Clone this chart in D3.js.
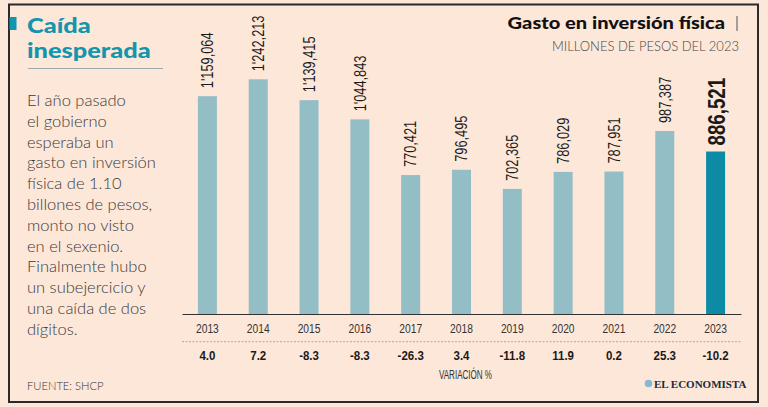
<!DOCTYPE html>
<html><head><meta charset="utf-8">
<script src="https://cdn.jsdelivr.net/npm/d3@7"></script>
<style>
html,body{margin:0;padding:0;background:#fde7d9;}
svg{display:block;}
</style></head>
<body>
<svg id="c" width="768" height="407"></svg>
<script>
const years = ["2013","2014","2015","2016","2017","2018","2019","2020","2021","2022","2023"];
const values = [1159064,1242213,1139415,1044843,770421,796495,702365,786029,787951,987387,886521];
const valueLabels = ["1'159,064","1'242,213","1'139,415","1'044,843","770,421","796,495","702,365","786,029","787,951","987,387","886,521"];
const variation = ["4.0","7.2","-8.3","-8.3","-26.3","3.4","-11.8","11.9","0.2","25.3","-10.2"];
const titleLines = ["Caída","inesperada"];
const bodyLines = ["El año pasado","el gobierno","esperaba un","gasto en inversión","física de 1.10","billones de pesos,","monto no visto","en el sexenio.","Finalmente hubo","un subejercicio y","una caída de dos","dígitos."];

const svg = d3.select("#c");
const bg = "#fde7d9";
svg.append("rect").attr("width",768).attr("height",407).attr("fill",bg);
svg.append("rect").attr("x",9).attr("y",4.5).attr("width",749).attr("height",397.5)
  .attr("fill","none").attr("stroke","#2a2a2a").attr("stroke-width",2);

// Left title
svg.append("rect").attr("x",9.5).attr("y",17).attr("width",7).attr("height",13).attr("fill","#1296ad");
const tFont = "Lato, 'Noto Sans', sans-serif";
svg.append("g").selectAll("text").data(titleLines).join("text")
  .attr("transform",(d,i)=>`translate(27,${i?57.6:33}) scale(1.3,1.1)`)
  .text(d=>d)
  .attr("font-family",tFont).attr("font-weight",900).attr("font-size",19.5).attr("fill","#1296ad");
svg.append("line").attr("x1",28).attr("x2",163).attr("y1",68.5).attr("y2",68.5)
  .attr("stroke","#9aaab0").attr("stroke-width",1.2);

// Body text
svg.append("g").selectAll("text").data(bodyLines).join("text")
  .attr("x",27).attr("y",(d,i)=>106+i*20.8).text(d=>d)
  .attr("font-family",tFont).attr("font-weight",300).attr("font-size",16.5).attr("fill","#3a3a3a");

// Right title
svg.append("text").attr("transform","translate(725,28.5) scale(1.18,1)").attr("text-anchor","end").text("Gasto en inversión física")
  .attr("font-family",tFont).attr("font-weight",900).attr("font-size",17).attr("fill","#111");
svg.append("line").attr("x1",737).attr("x2",737).attr("y1",16).attr("y2",31).attr("stroke","#555").attr("stroke-width",1);
svg.append("text").attr("x",739).attr("y",50.5).attr("text-anchor","end").text("MILLONES DE PESOS DEL 2023")
  .attr("font-family",tFont).attr("font-weight",300).attr("font-size",13).attr("fill","#444");

// Scales
const x = d3.scaleBand().domain(years).range([182,741]).padding(0);
const y = d3.scaleLinear().domain([86000,1242213]).range([314,79.3]);
const bw = 19;
const cx = d => x(d)+x.bandwidth()/2;
const last = years[years.length-1];

svg.append("g").selectAll("rect").data(years).join("rect")
  .attr("x",(d)=>cx(d)-bw/2).attr("width",bw)
  .attr("y",(d,i)=>y(values[i])).attr("height",(d,i)=>314-y(values[i]))
  .attr("fill",d=>d===last?"#0e8ba4":"#93bec6");

// value labels
svg.append("g").selectAll("text").data(years).join("text")
  .attr("transform",(d,i)=>{
    const hl = d===last;
    return `translate(${cx(d)+(hl?1:0)},${y(values[i])-(hl?6:8)}) rotate(-90) scale(${hl?0.78:0.8},1)`;
  })
  .attr("dy","0.36em")
  .text((d,i)=>valueLabels[i])
  .attr("font-family","'Liberation Sans', Arial, sans-serif")
  .attr("font-weight",d=>d===last?700:400)
  .attr("font-size",d=>d===last?24:16)
  .attr("fill","#1a1a1a");

// axis
const ax = svg.append("g").attr("transform","translate(0,314)");
ax.call(d3.axisBottom(x).tickSize(0).tickFormat(""));
ax.select(".domain").attr("stroke","#333").attr("stroke-width",1);

// year labels
svg.append("g").selectAll("text").data(years).join("text")
  .attr("transform",d=>`translate(${cx(d)},333.3) scale(0.76,1)`)
  .attr("text-anchor","middle").text(d=>d)
  .attr("font-family","'Liberation Sans', Arial, sans-serif").attr("font-size",13.5).attr("fill","#333");

svg.append("line").attr("x1",182).attr("x2",741).attr("y1",341.7).attr("y2",341.7)
  .attr("stroke","#9a9a9a").attr("stroke-width",0.8).attr("stroke-dasharray","2,1.5");

// variation
svg.append("g").selectAll("text").data(years).join("text")
  .attr("transform",d=>`translate(${cx(d)},360) scale(0.92,1)`)
  .attr("text-anchor","middle").text((d,i)=>variation[i])
  .attr("font-family","'Liberation Sans', Arial, sans-serif").attr("font-weight",700).attr("font-size",12.5).attr("fill","#1a1a1a");

svg.append("text").attr("transform","translate(465.5,378.5) scale(0.62,1)").attr("text-anchor","middle")
  .text("VARIACIÓN %").attr("font-family","'Liberation Sans', Arial, sans-serif").attr("font-size",13).attr("fill","#333");

// footer
svg.append("text").attr("x",27).attr("y",390).text("FUENTE: SHCP")
  .attr("font-family",tFont).attr("font-weight",300).attr("font-size",11.2).attr("fill","#333");

svg.append("circle").attr("cx",648.5).attr("cy",383.5).attr("r",3.8).attr("fill","#8ab8d2");
svg.append("text").attr("x",654).attr("y",387.5).text("EL ECONOMISTA")
  .attr("font-family","'Liberation Serif', serif").attr("font-weight",700).attr("font-size",11)
  .attr("fill","#1a2a3a");
</script>
</body></html>
